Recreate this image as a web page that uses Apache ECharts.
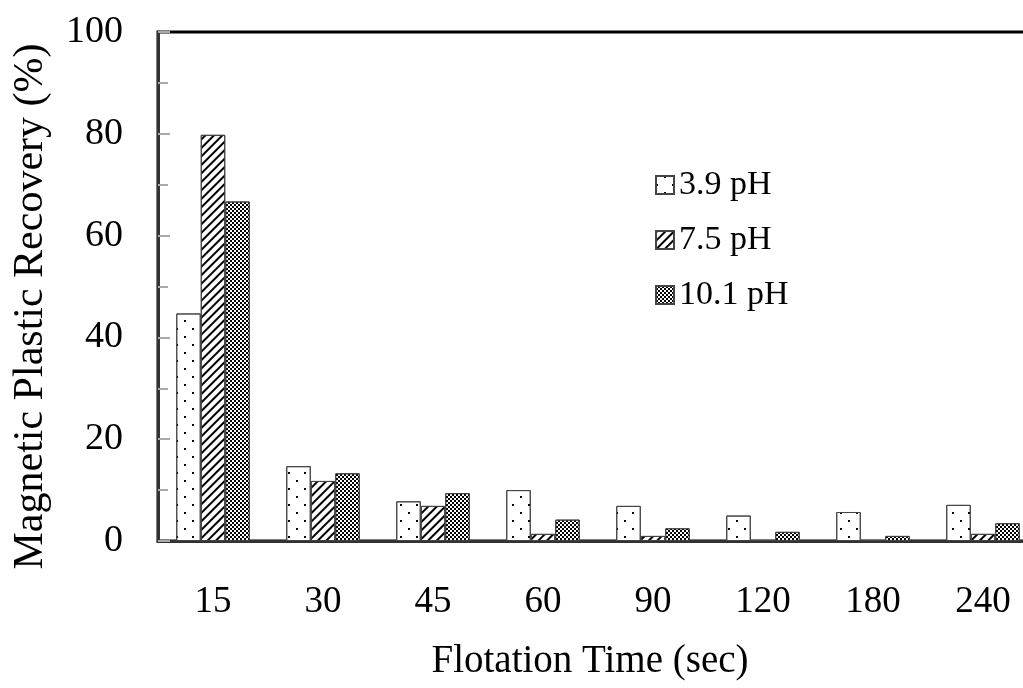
<!DOCTYPE html>
<html>
<head>
<meta charset="utf-8">
<script src="https://cdn.jsdelivr.net/npm/echarts@6/dist/echarts.min.js"></script>
<style>html,body{margin:0;padding:0;background:#fff}#c{width:1023px;height:688px}</style>
</head>
<body>
<div id="c"></div>
<script>
const categories = ['15', '30', '45', '60', '90', '120', '180', '240'];
const seriesNames = ['3.9 pH', '7.5 pH', '10.1 pH'];
const ph39 = [44.7, 14.7, 7.8, 10.0, 6.9, 5.0, 5.7, 7.1];
const ph75 = [79.8, 11.8, 6.9, 1.4, 1.0, 0.2, 0.2, 1.4];
const ph101 = [66.7, 13.3, 9.4, 4.2, 2.5, 1.8, 1.0, 3.5];
const yTicks = [0, 100, 20];

const FONT = 'Liberation Serif';
const decals = [
  { symbol: 'rect', color: '#000', dashArrayX: [[2, 14], [0, 8, 2, 6]], dashArrayY: [2, 6], symbolSize: 1, rotation: 0 },
  { symbol: 'rect', color: '#000', dashArrayX: [1, 0], dashArrayY: [1.2, 3.8], symbolSize: 1, rotation: -Math.PI / 4 },
  { symbol: 'rect', color: '#000', dashArrayX: [[2, 2], [0, 2, 2, 0]], dashArrayY: [2, 0], symbolSize: 1, rotation: 0 }
];
const dataSets = [ph39, ph75, ph101];

const chart = echarts.init(document.getElementById('c'));
chart.setOption({
  animation: false,
  aria: { enabled: true, decal: { show: true } },
  grid: { left: 158, top: 32, width: 880, height: 509, show: true, borderColor: '#000', borderWidth: 3, outerBoundsMode: 'none', containLabel: false },
  legend: {
    orient: 'vertical', left: 650, top: 163, itemGap: 21, itemWidth: 18, itemHeight: 18, icon: 'rect',
    textStyle: { fontFamily: FONT, fontSize: 34, color: '#000' },
    data: seriesNames
  },
  xAxis: {
    type: 'category', data: categories,
    name: 'Flotation Time (sec)', nameLocation: 'middle', nameGap: 101,
    nameTextStyle: { fontFamily: FONT, fontSize: 39, color: '#000', padding: [0, 16, 0, 0] },
    axisLine: { lineStyle: { color: '#333', width: 3 } },
    axisTick: { inside: true, length: 10, lineStyle: { color: '#aaa', width: 2 } },
    axisLabel: { fontFamily: FONT, fontSize: 37, color: '#000', margin: 43 }
  },
  yAxis: {
    type: 'value', min: yTicks[0], max: yTicks[1], interval: yTicks[2],
    name: 'Magnetic Plastic Recovery (%)', nameLocation: 'middle', nameGap: 106,
    nameTextStyle: { fontFamily: FONT, fontSize: 42, color: '#000', padding: [0, 40, 0, 0] },
    axisLine: { show: true, lineStyle: { color: '#333', width: 3 } },
    axisTick: { show: true, inside: true, length: 12, lineStyle: { color: '#aaa', width: 2 } },
    minorTick: { show: true, splitNumber: 2, length: 10, lineStyle: { color: '#aaa', width: 2 } },
    splitLine: { show: false },
    axisLabel: { fontFamily: FONT, fontSize: 38, color: '#000', margin: 35 }
  },
  series: seriesNames.map((n, i) => ({
    name: n, type: 'bar', data: dataSets[i], barWidth: 24.5, barGap: '0%',
    itemStyle: { color: '#fff', borderColor: '#444', borderWidth: 1, decal: decals[i] }
  }))
});
</script>
</body>
</html>
